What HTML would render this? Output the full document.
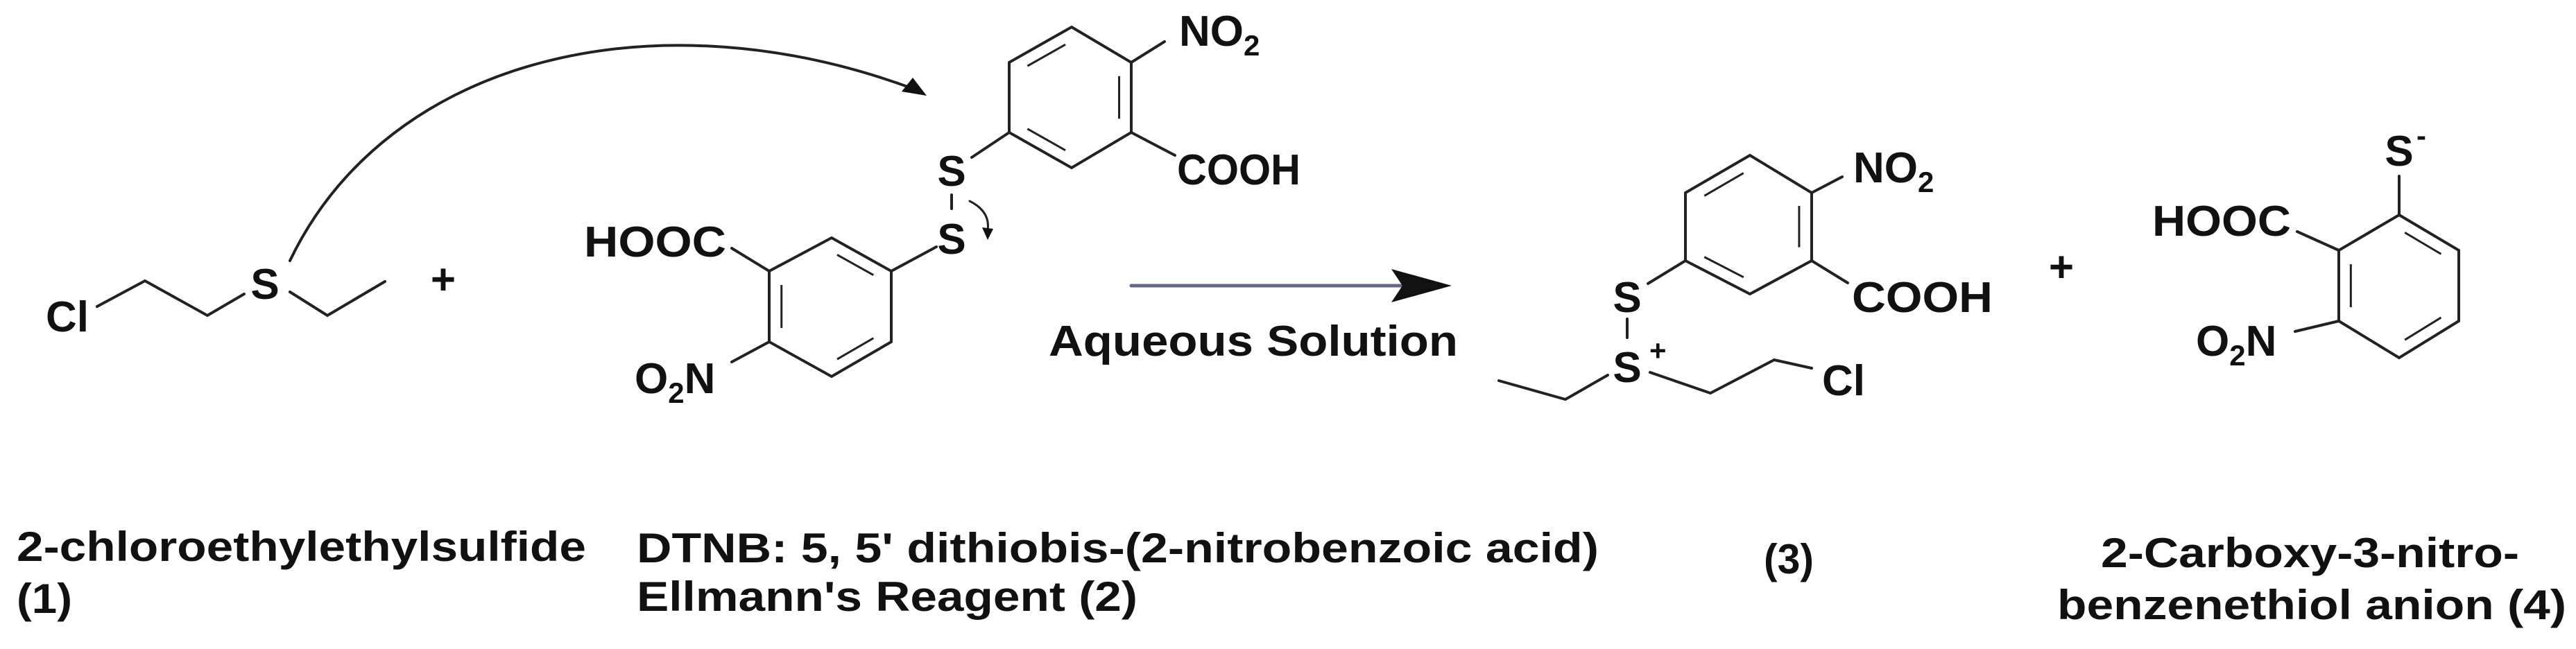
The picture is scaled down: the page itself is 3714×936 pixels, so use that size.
<!DOCTYPE html>
<html><head><meta charset="utf-8"><style>
html,body{margin:0;padding:0;background:#fff;width:3714px;height:936px;overflow:hidden}
svg{display:block}
text{font-family:"Liberation Sans",Arial,sans-serif;font-weight:bold;fill:#111;font-size:62px}
.lab{font-size:60px}
.sub{font-size:42px}
</style></head><body>
<svg id="s" width="3714" height="936" viewBox="0 0 3714 936" xmlns="http://www.w3.org/2000/svg">
<g id="bonds" stroke="#222" stroke-width="4" fill="none" stroke-linecap="round">
<!-- compound 1 -->
<polyline points="140,442 209,405 299,455 352,424"/>
<polyline points="418,421 472,455 555,406"/>
<!-- curved arrow -->
<path d="M418,376 C560,80 950,-10 1322,130"/>
<path d="M1336,138 L1300,132 L1316,112 z" fill="#111" stroke="none"/>
<!-- DTNB bonds -->
<line x1="1631" y1="90" x2="1679" y2="60"/>
<line x1="1631" y1="191" x2="1694" y2="224"/>
<line x1="1455" y1="191" x2="1401" y2="227"/>
<line x1="1372" y1="281" x2="1372" y2="301"/>
<line x1="1285" y1="391" x2="1350" y2="356"/>
<line x1="1109" y1="391" x2="1055" y2="358"/>
<line x1="1109" y1="493" x2="1055" y2="522"/>
<path d="M1398,290 Q1428,305 1424,332" stroke-width="3"/>
<path d="M1424,346 L1416,328 L1432,330 z" fill="#111" stroke="none"/>
<!-- reaction arrow -->
<line x1="1631" y1="412" x2="2030" y2="412" stroke="#66668a" stroke-width="5"/>
<path d="M2093,412 L2006,388 L2022,412 L2006,436 z" fill="#111" stroke="none"/>
<!-- product 3 -->
<line x1="2612" y1="278" x2="2656" y2="255"/>
<line x1="2612" y1="376" x2="2664" y2="408"/>
<line x1="2430" y1="376" x2="2376" y2="409"/>
<line x1="2346" y1="460" x2="2346" y2="487"/>
<polyline points="2161,549 2257,576 2318,541"/>
<polyline points="2379,537 2466,567 2558,519 2612,531"/>
<!-- product 4 -->
<line x1="3459" y1="310" x2="3459" y2="254"/>
<line x1="3372" y1="361" x2="3312" y2="334"/>
<line x1="3372" y1="463" x2="3309" y2="478"/>
</g>
<g id="rings" stroke="#222" stroke-width="4" fill="none"></g>

<text x="66" y="478" textLength="62" lengthAdjust="spacingAndGlyphs">Cl</text>
<text x="382" y="431" text-anchor="middle">S</text>
<text x="639" y="424" text-anchor="middle">+</text>

<text x="1700" y="66">NO<tspan class="sub" dy="14">2</tspan></text>
<text x="1697" y="266" textLength="178" lengthAdjust="spacingAndGlyphs">COOH</text>
<text x="1372" y="268" text-anchor="middle">S</text>
<text x="1372" y="366" text-anchor="middle">S</text>
<text x="842" y="370" textLength="205" lengthAdjust="spacingAndGlyphs">HOOC</text>
<text x="915" y="567">O<tspan class="sub" dy="14">2</tspan><tspan dy="-14">N</tspan></text>

<text x="1512" y="513" textLength="590" lengthAdjust="spacingAndGlyphs">Aqueous Solution</text>

<text x="2672" y="263">NO<tspan class="sub" dy="14">2</tspan></text>
<text x="2670" y="450" textLength="203" lengthAdjust="spacingAndGlyphs">COOH</text>
<text x="2346" y="450" text-anchor="middle">S</text>
<text x="2346" y="551" text-anchor="middle">S</text>
<text x="2378" y="520" class="sub">+</text>
<text x="2627" y="570">Cl</text>
<text x="2972" y="406" text-anchor="middle">+</text>

<text x="3459" y="239" text-anchor="middle">S</text>
<text x="3484" y="210" class="sub">-</text>
<text x="3103" y="340" textLength="200" lengthAdjust="spacingAndGlyphs">HOOC</text>
<text x="3166" y="513">O<tspan class="sub" dy="14">2</tspan><tspan dy="-14">N</tspan></text>

<text class="lab" x="24" y="809" textLength="821" lengthAdjust="spacingAndGlyphs">2-chloroethylethylsulfide</text>
<text class="lab" x="24" y="884" textLength="80" lengthAdjust="spacingAndGlyphs">(1)</text>
<text class="lab" x="918" y="811" textLength="1387" lengthAdjust="spacingAndGlyphs">DTNB: 5, 5' dithiobis-(2-nitrobenzoic acid)</text>
<text class="lab" x="918" y="881" textLength="722" lengthAdjust="spacingAndGlyphs">Ellmann's Reagent (2)</text>
<text class="lab" x="2543" y="827" textLength="72" lengthAdjust="spacingAndGlyphs">(3)</text>
<text class="lab" x="3029" y="818" textLength="603" lengthAdjust="spacingAndGlyphs">2-Carboxy-3-nitro-</text>
<text class="lab" x="2966" y="893" textLength="734" lengthAdjust="spacingAndGlyphs">benzenethiol anion (4)</text>
</svg>
<script>
var g=document.getElementById('rings'),NS="http://www.w3.org/2000/svg";
function L(a,b,c,d,w){var l=document.createElementNS(NS,'line');l.setAttribute('x1',a);l.setAttribute('y1',b);l.setAttribute('x2',c);l.setAttribute('y2',d);if(w)l.setAttribute('stroke-width',w);g.appendChild(l);}
function ring(p,dbl){var cx=0,cy=0;p.forEach(function(q){cx+=q[0];cy+=q[1];});cx/=6;cy/=6;
 var pts=p.map(function(q){return q.join(',')}).join(' ');
 var pg=document.createElementNS(NS,'polygon');pg.setAttribute('points',pts);g.appendChild(pg);
 dbl.forEach(function(i){var a=p[i],b=p[(i+1)%6];
  var a2=[a[0]+(cx-a[0])*0.2,a[1]+(cy-a[1])*0.2],b2=[b[0]+(cx-b[0])*0.2,b[1]+(cy-b[1])*0.2];
  var s=0.12;L(a2[0]+(b2[0]-a2[0])*s,a2[1]+(b2[1]-a2[1])*s,b2[0]+(a2[0]-b2[0])*s,b2[1]+(a2[1]-b2[1])*s,3);});}
ring([[1545,39],[1631,90],[1631,191],[1545,242],[1455,191],[1455,90]],[5,1,3]);
ring([[1199,343],[1285,391],[1285,493],[1199,543],[1109,493],[1109,391]],[0,2,4]);
ring([[2523,224],[2612,278],[2612,376],[2523,424],[2430,376],[2430,278]],[5,1,3]);
ring([[3459,310],[3545,361],[3545,463],[3459,516],[3372,463],[3372,361]],[0,2,4]);
</script>
</body></html>
